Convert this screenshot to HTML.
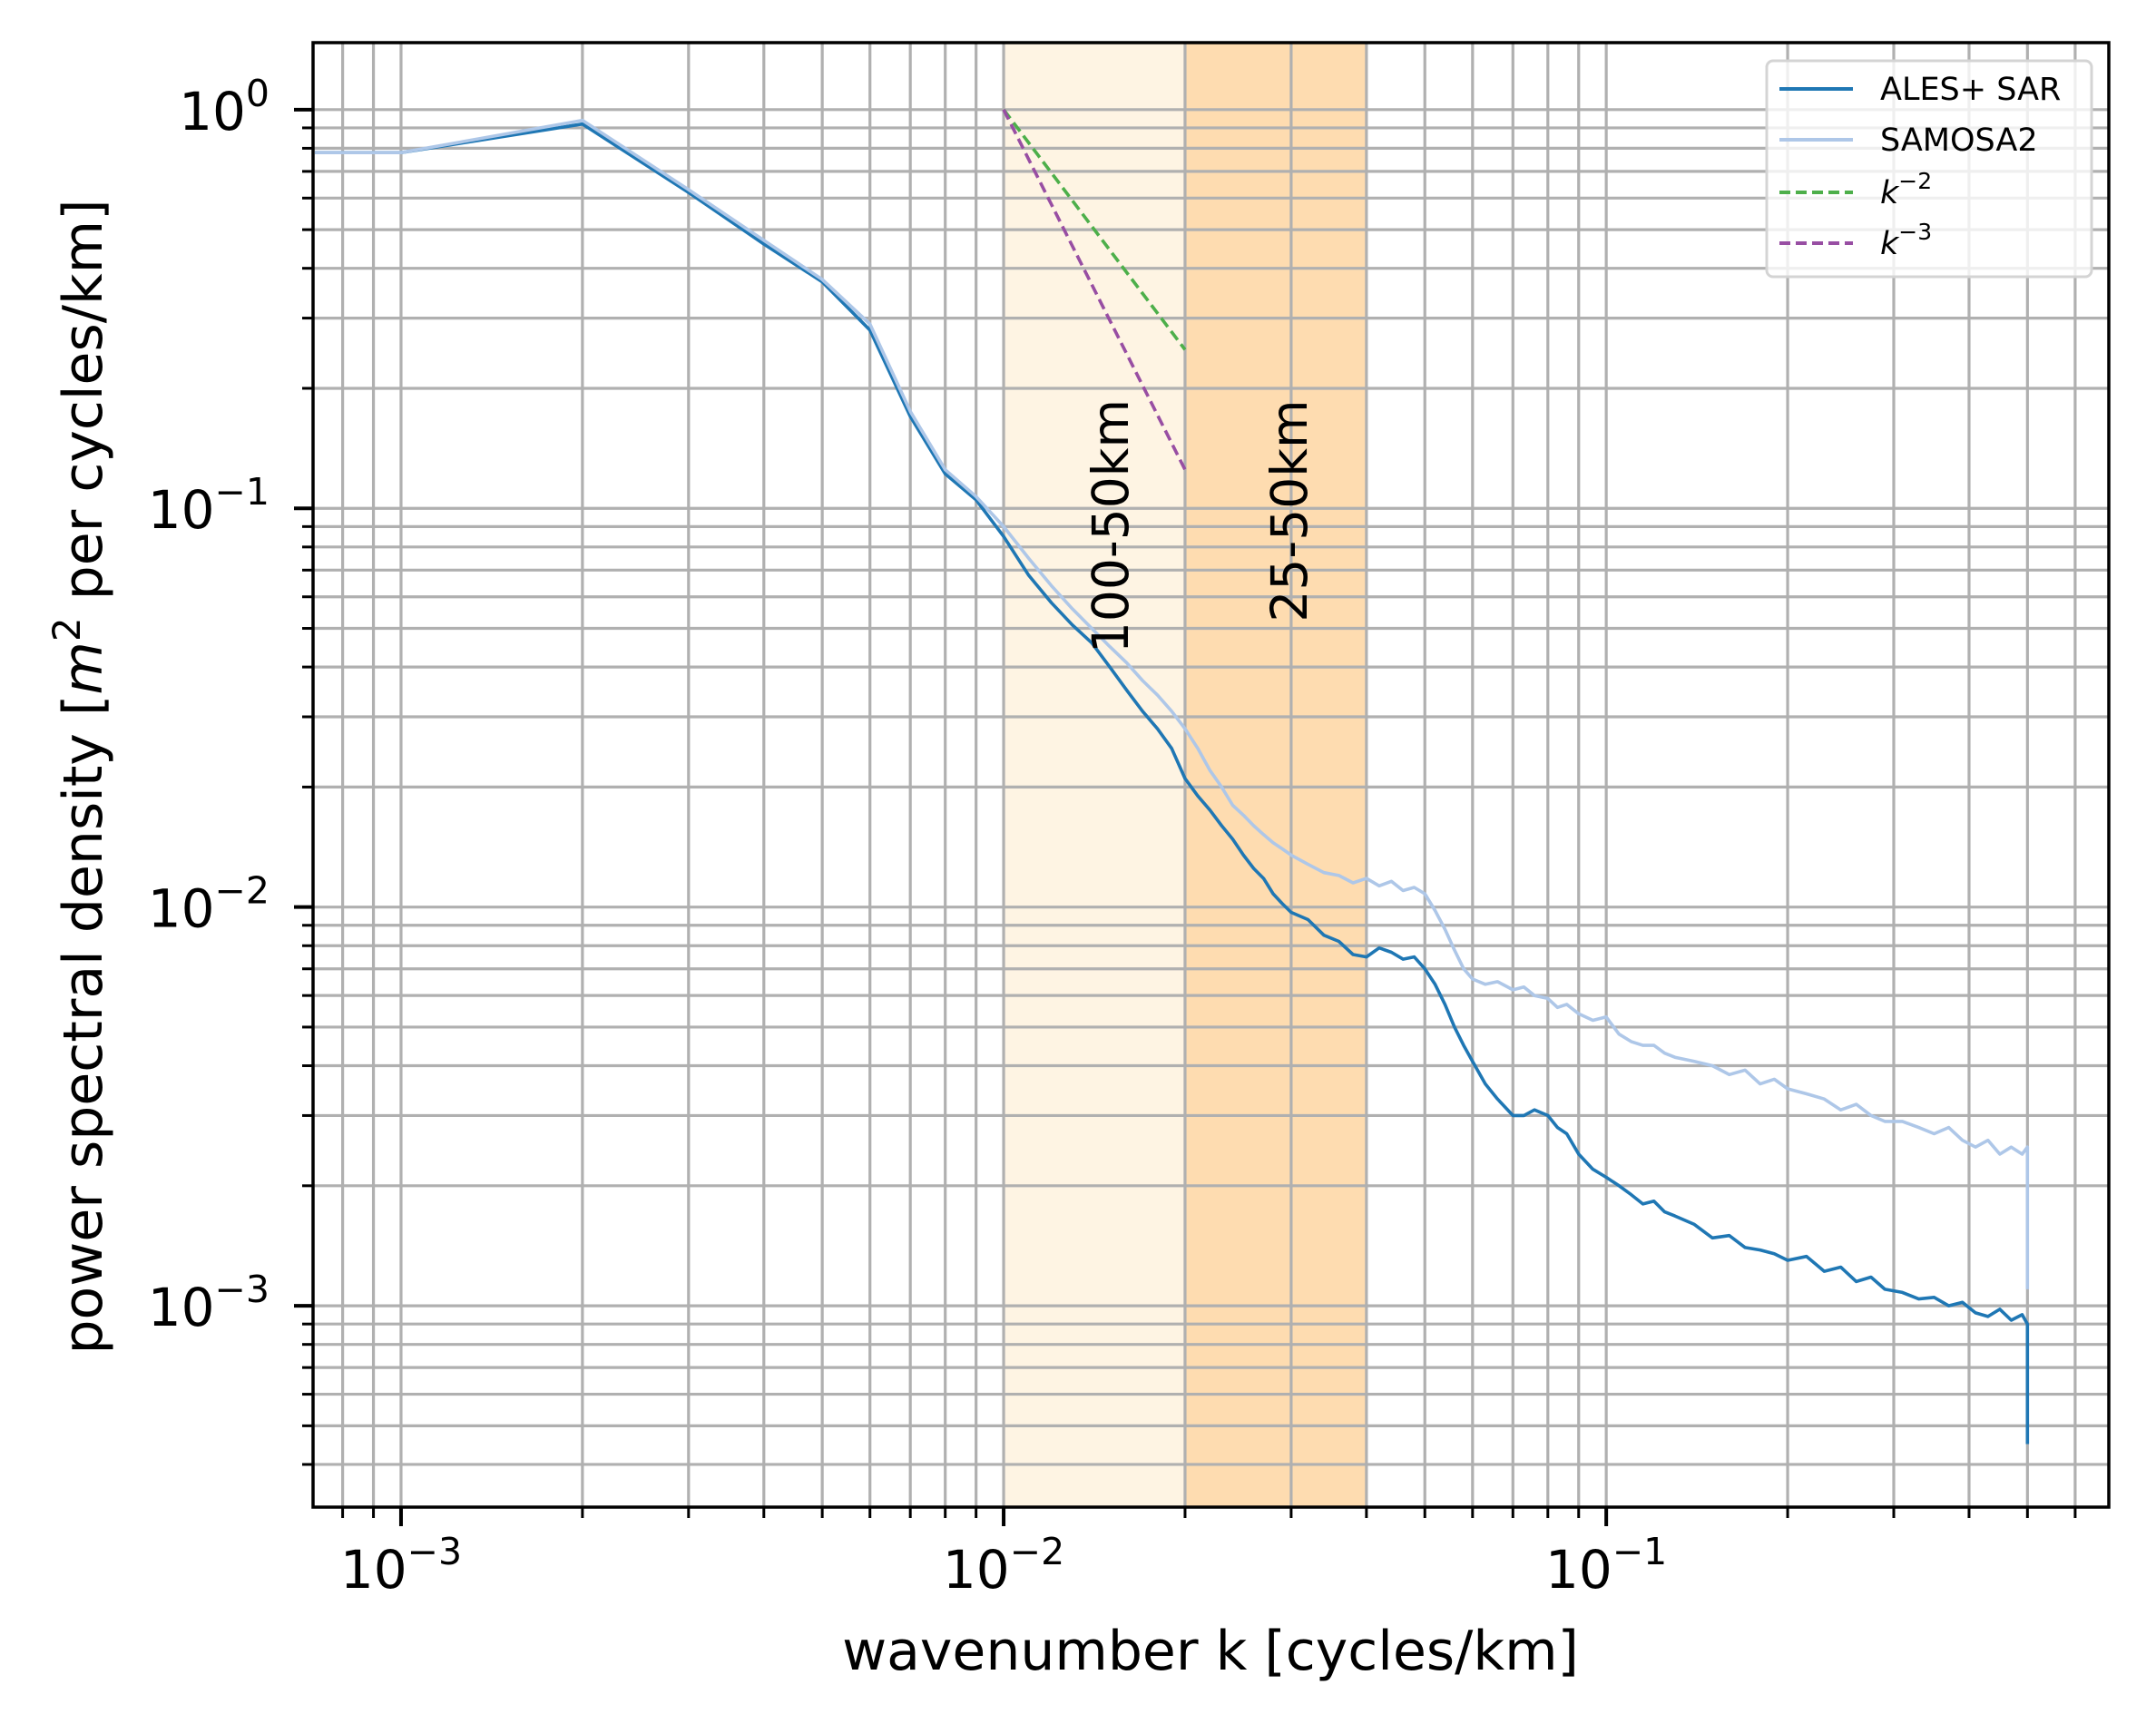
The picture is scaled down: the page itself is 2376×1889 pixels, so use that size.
<!DOCTYPE html>
<html><head><meta charset="utf-8">
<style>
html,body{margin:0;padding:0;background:#fff;}
svg{display:block;font-family:"DejaVu Sans","Liberation Sans",sans-serif;}
</style></head>
<body>
<svg id="chart" width="2376" height="1889" viewBox="0 0 2376 1889" xmlns="http://www.w3.org/2000/svg">
<defs><clipPath id="clip"><rect x="345" y="47" width="1979" height="1614"/></clipPath></defs>
<rect x="0" y="0" width="2376" height="1889" fill="#fff"/>
<g id="bands" clip-path="url(#clip)"></g>
<g id="grid" clip-path="url(#clip)"></g>
<g id="series" clip-path="url(#clip)"></g>
<g id="annot"></g>
<rect x="345" y="47" width="1979" height="1614" fill="none" stroke="#000" stroke-width="3.5"/>
<g id="ticks"></g>
<text x="1334" y="1840" font-size="60" text-anchor="middle">wavenumber k [cycles/km]</text>
<text transform="translate(112,856) rotate(-90)" font-size="60" text-anchor="middle">power spectral density [<tspan font-style="italic">m</tspan><tspan font-size="42" dy="-24">2</tspan><tspan dy="24"> per cycles/km]</tspan></text>
<g id="legend"></g>
</svg>
<script>
const kVals = [0.00072,0.001,0.002,0.003,0.004,0.005,0.006,0.007,0.008,0.009,
0.010,0.011,0.012,0.013,0.014,0.015,0.016,0.017,0.018,0.019,
0.020,0.021,0.022,0.023,0.024,0.025,0.026,0.027,0.028,0.029,
0.030,0.032,0.034,0.036,0.038,0.040,0.042,0.044,0.046,0.048,
0.050,0.052,0.054,0.056,0.058,0.060,0.063,0.066,0.070,0.073,
0.076,0.080,0.083,0.086,0.090,0.095,0.100,0.105,0.110,0.115,
0.120,0.125,0.130,0.140,0.150,0.160,0.170,0.180,0.190,0.200,
0.215,0.230,0.245,0.260,0.275,0.290,0.310,0.330,0.350,0.370,
0.390,0.410,0.430,0.450,0.470,0.490,0.500,0.500];
const alesVals = [0.78,0.78,0.92,0.62,0.46,0.37,0.28,0.17,0.122,0.105,
0.085,0.068,0.058,0.051,0.046,0.040,0.035,0.031,0.028,0.025,
0.021,0.019,0.0175,0.016,0.0148,0.0135,0.0125,0.0118,0.0108,0.0102,
0.0097,0.0093,0.0085,0.0082,0.0076,0.0075,0.0079,0.0077,0.0074,0.0075,
0.0070,0.0064,0.0057,0.0050,0.0045,0.0041,0.0036,0.0033,0.0030,0.0030,
0.0031,0.0030,0.0028,0.0027,0.0024,0.0022,0.0021,0.0020,0.0019,0.0018,
0.00183,0.00172,0.00168,0.00160,0.00148,0.00150,0.00140,0.00138,0.00135,0.00130,
0.00133,0.00122,0.00125,0.00115,0.00118,0.00110,0.00108,0.00104,0.00105,0.00100,
0.00102,0.00096,0.00094,0.00098,0.00092,0.00095,0.00090,0.00045];
const samosaVals = [0.78,0.78,0.94,0.63,0.47,0.375,0.29,0.175,0.125,0.107,
0.090,0.075,0.064,0.056,0.050,0.045,0.041,0.037,0.034,0.031,
0.028,0.025,0.022,0.020,0.018,0.017,0.0160,0.0152,0.0145,0.0140,
0.0135,0.0128,0.0122,0.0120,0.0115,0.0118,0.0113,0.0116,0.0110,0.0112,
0.0108,0.0098,0.0088,0.0078,0.0070,0.0066,0.0064,0.0065,0.0062,0.0063,
0.0060,0.0059,0.0056,0.0057,0.0054,0.0052,0.0053,0.0048,0.0046,0.0045,
0.0045,0.0043,0.0042,0.0041,0.0040,0.0038,0.0039,0.0036,0.0037,0.0035,
0.0034,0.0033,0.0031,0.0032,0.0030,0.0029,0.0029,0.0028,0.0027,0.0028,
0.0026,0.0025,0.0026,0.0024,0.0025,0.0024,0.0025,0.0011];
const refK = [0.01,0.02];
const refK2 = [1,0.25];
const refK3 = [1,0.125];
const bandEdges = [0.01,0.02,0.04];
const xTickExps = [-3,-2,-1];
const yTickExps = [0,-1,-2,-3];

const NS='http://www.w3.org/2000/svg';
const L=345,R=2324,T=47,B=1661;
const xmin=-3.146,xmax=-0.166,ymin=-3.505,ymax=0.168;
function xs(k){return L+(Math.log10(k)-xmin)/(xmax-xmin)*(R-L);}
function ys(p){return B-(Math.log10(p)-ymin)/(ymax-ymin)*(B-T);}
function mk(tag,attrs,parent){const e=document.createElementNS(NS,tag);for(const a in attrs)e.setAttribute(a,attrs[a]);parent.appendChild(e);return e;}

const bands=document.getElementById('bands');
const bandColors=['#fef4e3','#fedcb0'];
for(let i=0;i<2;i++){
  const r=mk('rect',{x:xs(bandEdges[i]),y:T,width:xs(bandEdges[i+1])-xs(bandEdges[i]),height:B-T,fill:bandColors[i]},bands);
  
  
}
const grid=document.getElementById('grid');
const ticks=document.getElementById('ticks');
for(let e=-4;e<=0;e++){for(let m=1;m<10;m++){const v=m*Math.pow(10,e);const x=xs(v);
  if(x<L-1||x>R+1)continue;
  const g=mk('line',{x1:x,x2:x,y1:T,y2:B,stroke:'#b0b0b0','stroke-width':3.2},grid);
  
  
  const t=mk('line',{x1:x,x2:x,y1:B,y2:B+(m===1?21:12),stroke:'#000','stroke-width':m===1?4:3},ticks);
  
  
}}
for(let e=-4;e<=0;e++){for(let m=1;m<10;m++){const v=m*Math.pow(10,e);const y=ys(v);
  if(y<T-1||y>B+1)continue;
  const g=mk('line',{x1:L,x2:R,y1:y,y2:y,stroke:'#b0b0b0','stroke-width':3.2},grid);
  
  
  const t=mk('line',{x1:L-(m===1?21:12),x2:L,y1:y,y2:y,stroke:'#000','stroke-width':m===1?4:3},ticks);
  
  
}}
xTickExps.forEach(ex=>{
  const x=xs(Math.pow(10,ex));
  const t=mk('text',{x:x,y:1750,'font-size':58,'text-anchor':'middle'},ticks);
  
  
  t.innerHTML='10<tspan font-size="41" dy="-26">\u2212'+Math.abs(ex)+'</tspan>';
});
yTickExps.forEach(ex=>{
  const y=ys(Math.pow(10,ex));
  const t=mk('text',{x:297,y:y+22,'font-size':58,'text-anchor':'end'},ticks);
  
  
  t.innerHTML='10<tspan font-size="41" dy="-26">'+(ex===0?'0':'\u2212'+Math.abs(ex))+'</tspan>';
});
const ser=document.getElementById('series');
function poly(vals,color,w,name){
  const n=Math.min(kVals.length,vals.length);let pts=[];
  for(let i=0;i<n;i++)pts.push(xs(kVals[i]).toFixed(1)+','+ys(vals[i]).toFixed(1));
  const p=mk('polyline',{points:pts.join(' '),fill:'none',stroke:color,'stroke-width':w,'stroke-linejoin':'round'},ser);
  
  
}
poly(alesVals,'#1f77b4',3.6,'ales-sar-line');
poly(samosaVals,'#aec7e8',3.6,'samosa2-line');
function refLine(vals,color,name){
  const p=mk('polyline',{points:refK.map((k,i)=>xs(k)+','+ys(vals[i])).join(' '),fill:'none',stroke:color,'stroke-width':3.6,'stroke-dasharray':'12,6'},ser);
  
  
}
refLine(refK2,'#4daf4a','k-minus-2-line');
refLine(refK3,'#984ea3','k-minus-3-line');
const an=document.getElementById('annot');
const a1=mk('text',{transform:'translate(1243,580) rotate(-90)','font-size':55,'text-anchor':'middle'},an);
a1.textContent='100-50km';


const a2=mk('text',{transform:'translate(1440,563) rotate(-90)','font-size':55,'text-anchor':'middle'},an);
a2.textContent='25-50km';


const lg=document.getElementById('legend');
const box=mk('rect',{x:1947,y:67,width:358,height:238,rx:7,fill:'#fff','fill-opacity':0.8,stroke:'#d4d4d4','stroke-width':3},lg);


const ents=[['#1f77b4',null,'ALES+ SAR'],['#aec7e8',null,'SAMOSA2'],['#4daf4a','12,6','k2'],['#984ea3','12,6','k3']];
const ey=[98,154,212,268];
ents.forEach((e,i)=>{
  const g=mk('g',{},lg);
  
  
  const ln=mk('line',{x1:1961,x2:2042,y1:ey[i],y2:ey[i],stroke:e[0],'stroke-width':4},g);
  if(e[1])ln.setAttribute('stroke-dasharray',e[1]);
  const t=mk('text',{x:2072,y:ey[i]+12,'font-size':35},g);
  if(e[2]==='k2')t.innerHTML='<tspan font-style="italic">k</tspan><tspan font-size="25" dy="-16">\u22122</tspan>';
  else if(e[2]==='k3')t.innerHTML='<tspan font-style="italic">k</tspan><tspan font-size="25" dy="-16">\u22123</tspan>';
  else t.textContent=e[2];
});
</script>
</body></html>
